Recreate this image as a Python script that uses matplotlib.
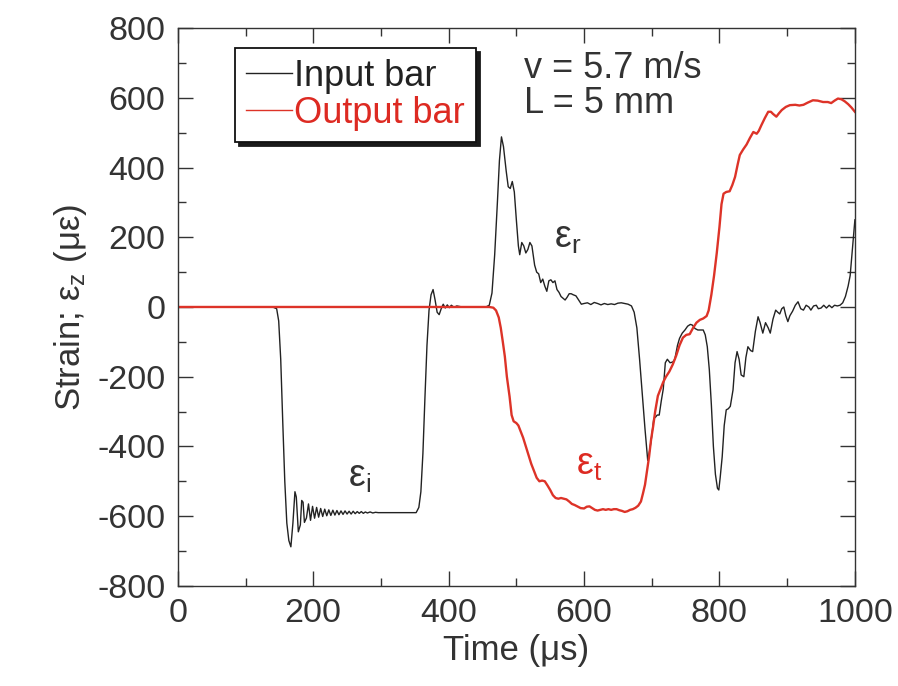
import matplotlib
matplotlib.use("Agg")
from matplotlib import pyplot as plt

plt.rcParams['font.family'] = ['Liberation Sans', 'DejaVu Sans']
plt.rcParams['mathtext.fontset'] = 'custom'
plt.rcParams['mathtext.rm'] = 'Liberation Sans'
plt.rcParams['mathtext.it'] = 'Liberation Sans'
plt.rcParams['mathtext.default'] = 'regular'
plt.rcParams['axes.unicode_minus'] = False

# input bar (incident + reflected), time in microseconds, strain in micro-strain
t_in = [0, 140, 146, 149, 152, 155, 158, 161, 164, 167, 170, 173, 175, 178, 181,
        183, 185, 187, 190, 193, 196, 199, 202, 205, 208, 211, 214, 217, 220, 223,
        226, 229, 232, 235, 238, 241, 244, 247, 250, 253, 256, 259, 262, 265, 268,
        271, 274, 277, 280, 284, 288, 292, 296, 300, 350,
        352, 356, 359, 362, 365, 368, 371, 374, 377, 380, 383, 386, 389, 392, 395,
        398, 401, 404, 408, 412, 420, 455, 460, 464, 468, 472, 475, 478, 481, 485,
        488, 491, 494, 497, 500, 503, 505, 508, 511, 514, 517, 520, 523, 527, 530,
        533, 536, 539, 542, 545, 548, 551, 554, 557, 560, 563, 566, 569, 572, 575,
        578, 581, 584, 588, 592, 596, 600, 605, 610, 615, 620, 625, 630, 635, 640,
        645, 650, 655, 660, 665, 670, 674, 678, 682, 686, 690, 694, 697, 700, 703,
        706, 708, 711, 714, 717, 720, 723, 727, 731, 734, 738, 741, 745, 749, 753,
        757, 760, 764, 768, 772, 776, 779, 782, 785, 788, 791, 794, 797, 799, 801,
        804, 807, 810, 813, 816, 820, 823, 826, 829, 832, 836, 839, 842, 846, 849,
        853, 857, 860, 864, 868, 872, 875, 879, 883, 886, 889, 892, 895, 898, 901,
        904, 908, 912, 916, 920, 924, 928, 932, 935, 939, 943, 946, 950, 954, 958,
        962, 966, 970, 974, 978, 982, 986, 990, 993, 996, 1000]
eps_in = [0, 0, -5, -40, -150, -330, -500, -620, -670, -688, -620, -530, -545, -645, -625,
          -555, -560, -618, -605, -565, -612, -572, -606, -575, -603, -578, -601, -580, -599, -582,
          -598, -583, -597, -584, -596, -585, -595, -585, -594, -586, -594, -586, -593, -587, -592,
          -587, -592, -588, -591, -588, -591, -589, -590, -590, -590,
          -590, -575, -530, -420, -260, -110, -10, 35, 50, 20, -15, -22, -5, 8, -3,
          6, -2, 5, -1, 3, 0, 0, 5, 40, 150, 300, 420, 488, 460, 390,
          345, 340, 360, 330, 250, 175, 150, 185, 175, 155, 165, 185, 175, 120, 100,
          95, 70, 80, 60, 45, 75, 78, 70, 75, 50, 42, 30, 25, 20, 28,
          38, 38, 35, 32, 20, 8, 10, 12, 7, 13, 10, 6, 10, 7, 9,
          7, 11, 12, 10, 8, 3, -15, -60, -150, -250, -350, -440, -410, -370, -320,
          -315, -310, -310, -270, -235, -160, -150, -160, -158, -150, -110, -90, -75, -66, -55,
          -50, -52, -62, -66, -66, -66, -80, -114, -180, -280, -400, -480, -520, -525, -490,
          -430, -340, -295, -292, -285, -238, -160, -128, -150, -195, -200, -145, -114, -125, -128,
          -70, -28, -45, -75, -45, -60, -75, -35, -9, -15, -20, -5, 0, -25, -42,
          -25, -12, 5, 15, -5, -9, 5, 0, -9, 3, 5, -5, -3, 5, -3,
          5, -2, 5, 3, 5, 12, 30, 60, 90, 160, 250]

# output bar (transmitted)
t_out = [0, 460, 466, 470, 474, 477, 480, 483, 486, 490, 493, 496, 500, 503, 507,
         510, 514, 518, 522, 526, 530, 534, 538, 542, 546, 550, 554, 558, 562, 566,
         570, 574, 578, 582, 586, 590, 595, 600, 604, 608, 612, 616, 620, 624, 628,
         632, 636, 640, 644, 648, 652, 656, 660, 664, 668, 672, 676, 680, 684, 687,
         690, 693, 696, 699, 702, 705, 709, 713, 717, 721, 726, 731, 736, 741, 746,
         751, 756, 761, 766, 771, 776, 781, 784, 788, 792, 796, 800, 803, 806, 810,
         815, 819, 823, 827, 830, 835, 840, 845, 850, 855, 858, 862, 867, 872, 876,
         879, 884, 888, 892, 898, 904, 912, 918, 924, 930, 938, 945, 953, 960, 965,
         970, 975, 980, 985, 990, 995, 1000]
eps_out = [0, 0, -2, -10, -30, -60, -100, -142, -200, -257, -310, -328, -333, -340, -360,
           -375, -400, -425, -450, -470, -490, -500, -498, -500, -512, -525, -540, -548, -550, -548,
           -550, -552, -558, -565, -568, -572, -577, -578, -573, -572, -577, -582, -584, -582, -580,
           -582, -580, -582, -580, -580, -583, -585, -588, -586, -582, -580, -576, -570, -558, -535,
           -510, -470, -430, -380, -343, -300, -255, -235, -215, -200, -185, -165, -140, -110, -88,
           -80, -78, -60, -45, -37, -33, -26, -10, 35, 90, 155, 230, 295, 325, 330,
           332, 350, 373, 410, 436, 452, 466, 485, 502, 497, 505, 522, 542, 560, 560,
           554, 546, 556, 565, 574, 579, 580, 578, 580, 586, 593, 592, 588, 588, 585,
           592, 598, 596, 590, 582, 572, 560]

fig = plt.figure(figsize=(8.98, 6.86), dpi=100)
ax = fig.add_axes([0.198, 0.146, 0.754, 0.813])

ax.plot(t_in, eps_in, c='#222222', lw=1.0, label='Input bar')
ax.plot(t_out, eps_out, c='#dd3328', lw=1.7, label='Output bar')

ax.set_xlim(0, 1000)
ax.set_ylim(-800, 800)
ax.set_xticks(range(0, 1001, 200))
ax.set_xticks(range(0, 1001, 100), minor=True)
ax.set_yticks(range(-800, 801, 200))
ax.set_yticks(range(-800, 801, 100), minor=True)
ax.tick_params(which='both', direction='in', top=True, right=True, color='#333333', width=1)
ax.tick_params(which='major', length=11, labelsize=24.5, labelcolor='#333333', pad=9)
ax.tick_params(which='minor', length=5.5)
for s in ax.spines.values():
    s.set_color('#333333')
    s.set_linewidth(1)

ax.set_xlabel('Time (μs)', fontsize=25, color='#333333', labelpad=3)
ax.set_ylabel('Strain; ε$_z$ (με)', fontsize=25, color='#333333', labelpad=6)

leg = ax.legend(loc='upper left', bbox_to_anchor=(0.084, 0.964), borderaxespad=0,
                fontsize=26, handlelength=1.3, handletextpad=0.05, labelspacing=0.05,
                borderpad=0.3, frameon=True, fancybox=False,
                shadow={'color': '#1a1a1a', 'alpha': 1, 'ox': 3, 'oy': -3})
leg.get_frame().set_edgecolor('#111111')
leg.get_frame().set_linewidth(1.3)
leg.get_texts()[0].set_color('#222222')
leg.get_texts()[1].set_color('#dd2a22')
for h in leg.get_lines():
    h.set_linewidth(1.0)

ax.text(512, 685, 'v = 5.7 m/s', fontsize=26, color='#333333', va='center')
ax.text(512, 585, 'L = 5 mm', fontsize=26, color='#333333', va='center')

ax.text(252, -516, 'ε$_i$', fontsize=27, color='#333333')
ax.text(555, 169, 'ε$_r$', fontsize=27, color='#333333')
ax.text(588, -481, 'ε$_t$', fontsize=27, color='#dd2a22')

plt.savefig('out.png', dpi=100)
plt.close()
